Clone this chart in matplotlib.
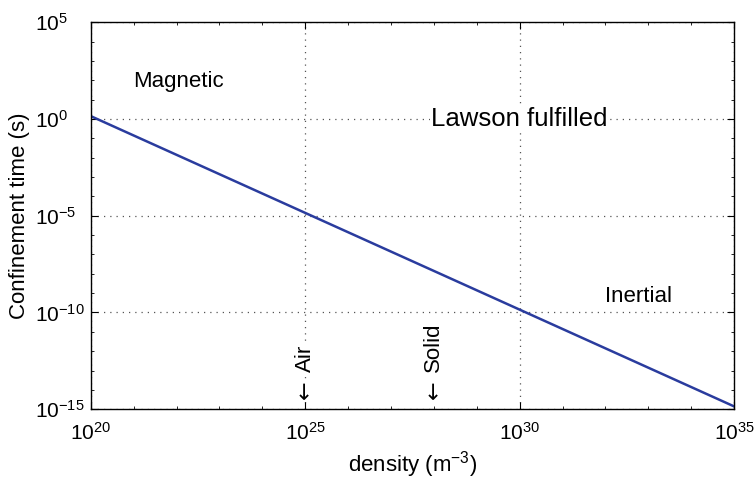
import numpy as np
import matplotlib.pyplot as plt
from matplotlib.ticker import LogLocator, NullFormatter

plt.rcParams['font.family'] = ['Liberation Sans', 'DejaVu Sans']
plt.rcParams['mathtext.fontset'] = 'custom'
plt.rcParams['mathtext.rm'] = 'Liberation Sans'
plt.rcParams['mathtext.it'] = 'Liberation Sans'

# Lawson line: n * tau = const
density = np.array([1e20, 1e35])
tau = np.array([1.4e0, 1.4e-15])

xticks = [1e20, 1e25, 1e30, 1e35]
yticks = [1e-15, 1e-10, 1e-5, 1e0, 1e5]

# marker positions for the density references
marks = {'Air': 1e25, 'Solid': 1e28}

fig = plt.figure(figsize=(7.56, 4.82), dpi=100)
ax = fig.add_axes([0.120, 0.151, 0.851, 0.803])

ax.loglog(density, tau, color='#2a3c9e', lw=1.8)
ax.set_xlim(1e20, 1e35)
ax.set_ylim(1e-15, 1e5)
ax.set_xticks(xticks)
ax.set_yticks(yticks)
ax.xaxis.set_minor_locator(LogLocator(base=10, subs=(1.0,), numticks=100))
ax.yaxis.set_minor_locator(LogLocator(base=10, subs=(1.0,), numticks=100))
ax.xaxis.set_minor_formatter(NullFormatter())
ax.yaxis.set_minor_formatter(NullFormatter())
ax.tick_params(which='both', direction='in', top=True, right=True, labelsize=15)
ax.tick_params(which='major', length=5)
ax.tick_params(which='minor', length=2.5)
ax.tick_params(axis='x', which='major', pad=9)
ax.tick_params(axis='y', which='major', pad=40)
for lab in ax.get_yticklabels():
    lab.set_ha('left')
ax.grid(True, which='major', ls=(0, (1, 4)), color='#555555', lw=0.9)

for s in ax.spines.values():
    s.set_linewidth(1.0)

ax.set_xlabel('density (m$^{-3}$)', fontsize=16, labelpad=4)
ax.set_ylabel('Confinement time (s)', fontsize=16, labelpad=4)

box = dict(facecolor='white', edgecolor='none', pad=1)
ax.text(1e21, 10**1.95, 'Magnetic', fontsize=16, va='center', ha='left')
ax.text(1e30, 10**0.0, 'Lawson fulfilled', fontsize=18.5, va='center', ha='center', bbox=box)
ax.text(1e32, 10**-9.2, 'Inertial', fontsize=16, va='center', ha='left')

for name, x in marks.items():
    ax.text(x, 10**-14.45, '\u2190', fontsize=16, rotation=90, va='bottom', ha='center',
            family='DejaVu Sans', bbox=box)
    ax.annotate(name, xy=(x, 10**-14.45), xytext=(0, 19), textcoords='offset points',
                fontsize=16, rotation=90, va='bottom', ha='center', bbox=box)

fig.savefig('out.png', dpi=100)
